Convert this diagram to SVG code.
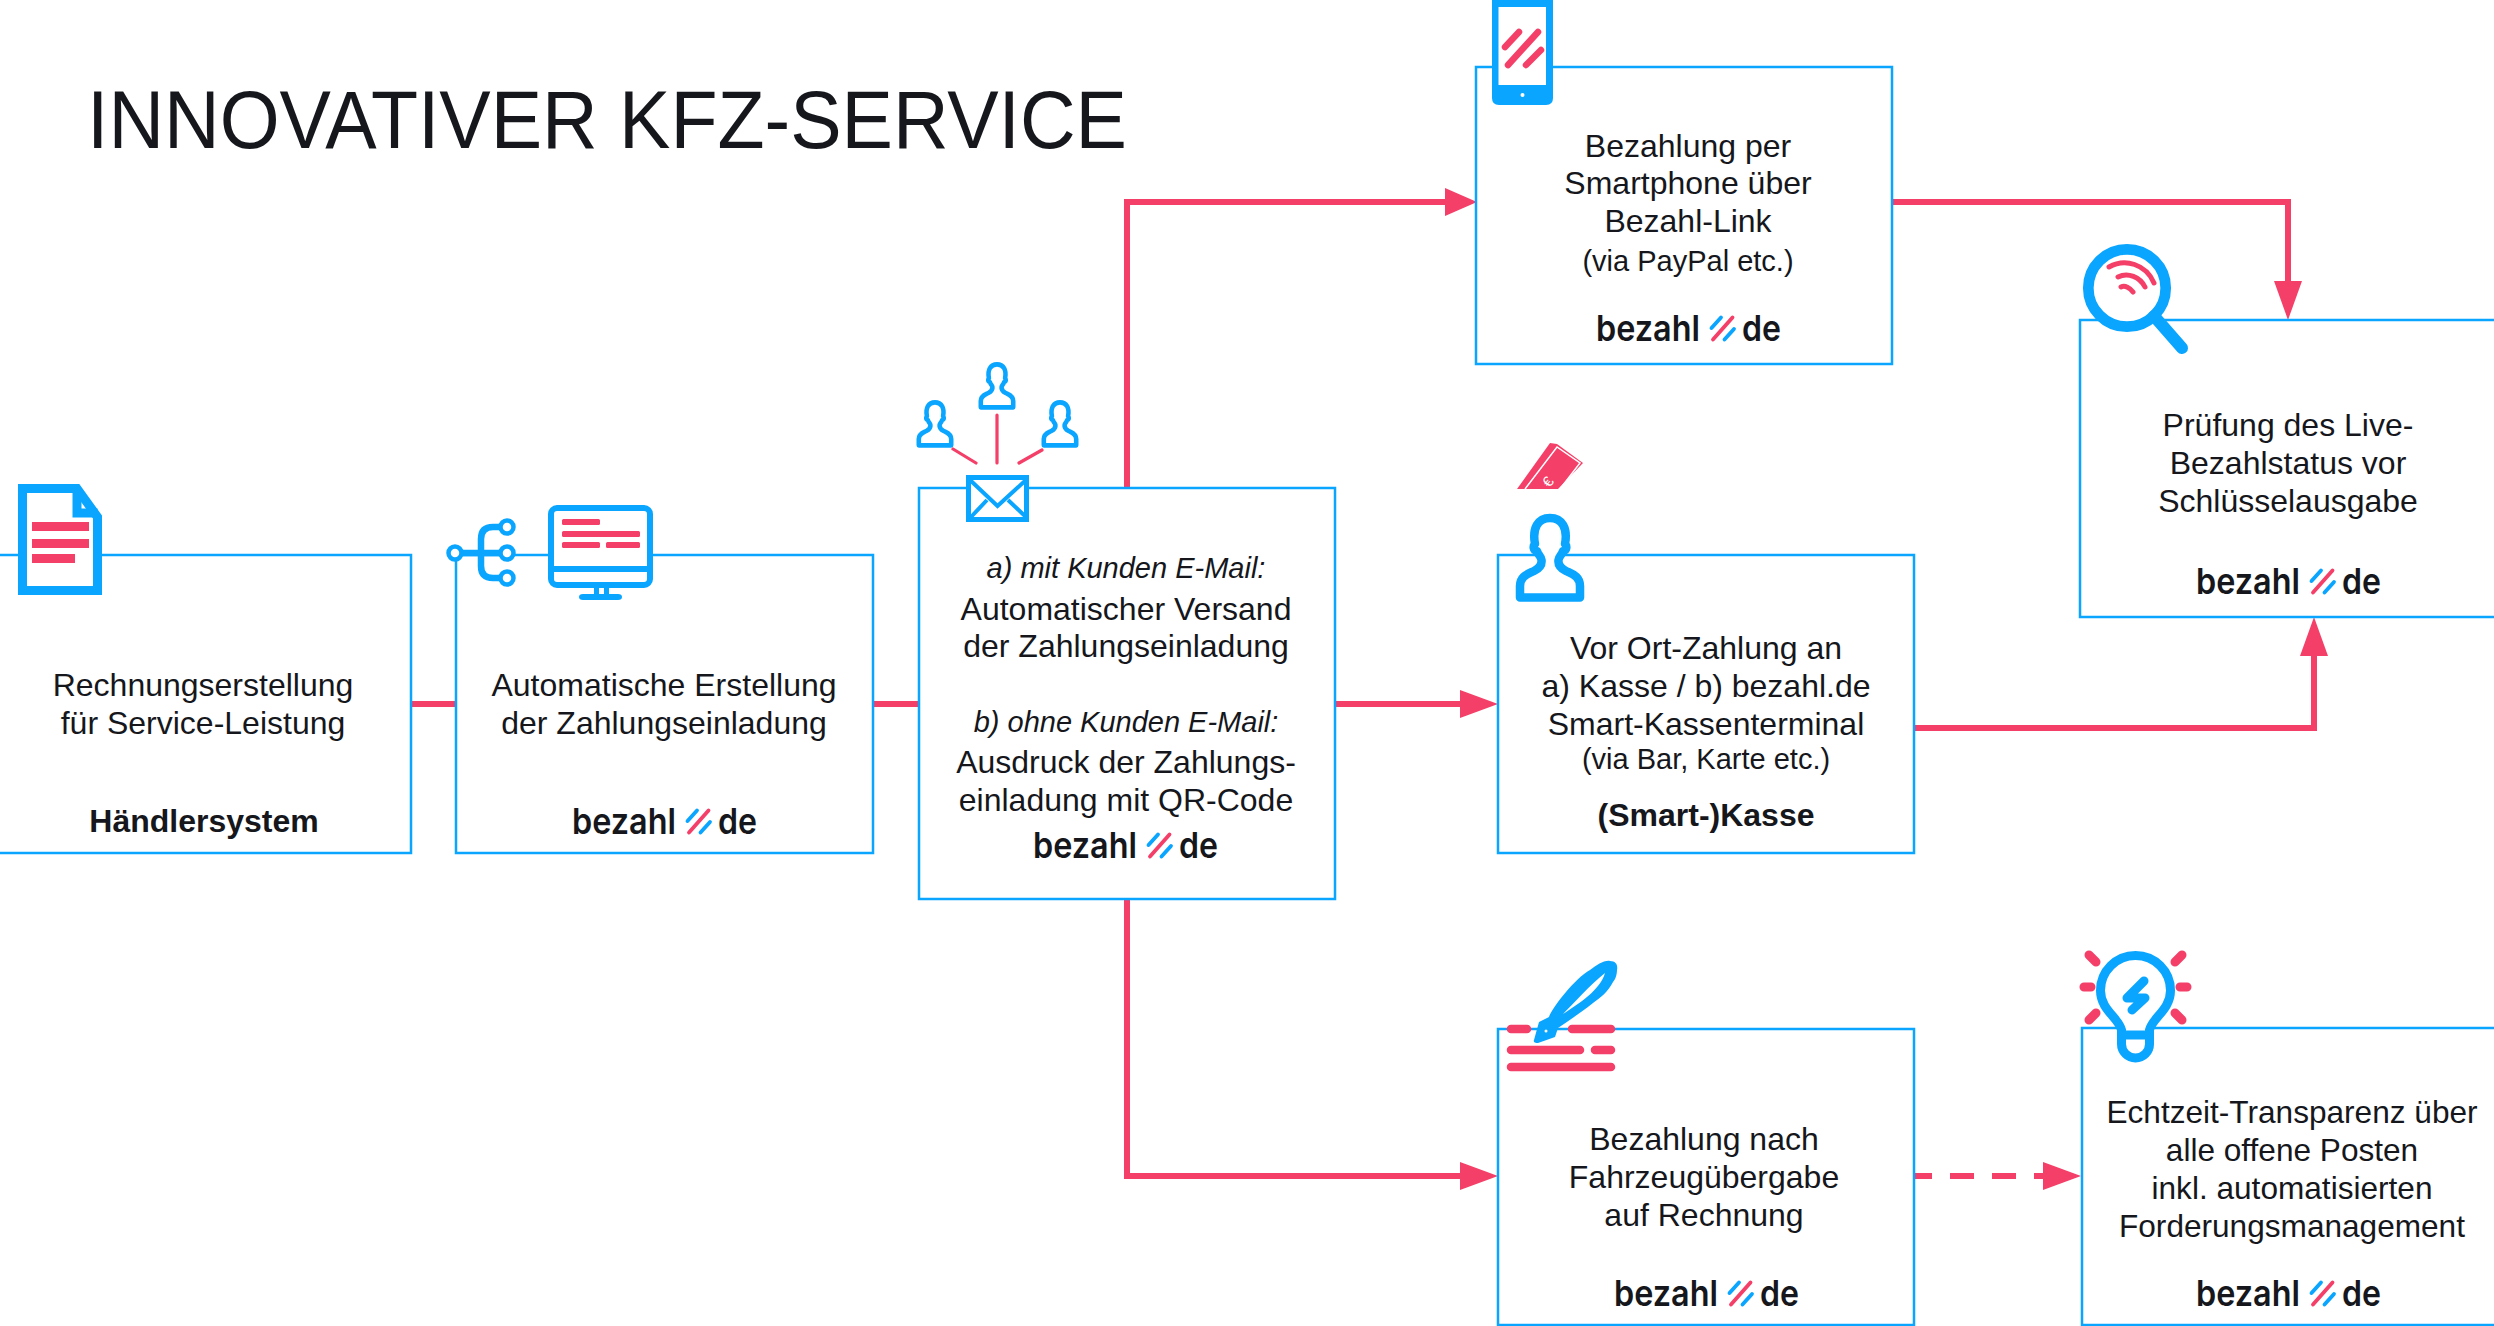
<svg xmlns="http://www.w3.org/2000/svg" width="2494" height="1326" viewBox="0 0 2494 1326">
<style>
.box{fill:#fff;stroke:#0aa5ff;stroke-width:2.5}
.t{font-family:"Liberation Sans",Arial,sans-serif;font-size:32px;fill:#15171c;text-anchor:middle}
.s{font-size:29px}
.i{font-style:italic;font-size:29px}
.b{font-weight:700}
.e{font-size:31.6px}
.title{font-size:81px}
.logo{font-family:Inter,"Liberation Sans",sans-serif;font-weight:600;font-size:36px;fill:#15171c}
.c{fill:none;stroke:#f43f68;stroke-width:6}
.ah{fill:#f43f68}
.bl{fill:#0aa5ff}
.ol{fill:none;stroke:#0aa5ff}
.pk{fill:none;stroke:#f43f68;stroke-linecap:round}
.pf{fill:#f43f68}
</style>
<defs>
<g id="slashes" fill="none" stroke-width="3.8" stroke-linecap="round">
<path d="M115.500-13 125-23.500M128.500-1.500 138-12" stroke="#0aa5ff"/>
<path d="M117-1.500 136.500-23.500" stroke="#f43f68"/>
</g>
<path id="person" d="M-30 39.500V28C-30 18-22 16-16 13C-10 10-8 6-8.500 2C-9-2-12-3-13-7C-17-8-17-12-15-14C-18-30-12-40 0-40C12-40 18-30 15-14C17-12 17-8 13-7C12-3 9-2 8.500 2C8 6 10 10 16 13C22 16 30 18 30 28V39.500Z" stroke="#0aa5ff" stroke-width="8.500" stroke-linejoin="round"/>
</defs>

<text class="t title" x="607" y="148" textLength="1040" lengthAdjust="spacingAndGlyphs">INNOVATIVER KFZ-SERVICE</text>

<g id="connectors">
<path class="c" d="M411 704H456M873 704H919"/>
<path class="c" d="M1335 704H1466"/><path class="ah" d="M1498 704 1460 690V718Z"/>
<path class="c" d="M1127 488V202H1450"/><path class="ah" d="M1477 202 1445 188V216Z"/>
<path class="c" d="M1892 202H2288V290"/><path class="ah" d="M2288 320 2274 281H2302Z"/>
<path class="c" d="M1914 728H2314V650"/><path class="ah" d="M2314 617 2300 656H2328Z"/>
<path class="c" d="M1127 899V1176H1470"/><path class="ah" d="M1498 1176 1460 1162V1190Z"/>
<path class="c" d="M1908 1176H2050" stroke-dasharray="24 18"/><path class="ah" d="M2081 1176 2043 1162V1190Z"/>
</g>

<g id="node-rechnung">
<rect class="box" x="-10" y="555" width="421" height="298"/>
<path d="M22.500 488.500H77L97.500 517V590.500H22.500Z" fill="#fff" stroke="#0aa5ff" stroke-width="9"/>
<path d="M77 488.500V513H97.500" fill="none" stroke="#0aa5ff" stroke-width="9"/>
<rect class="pf" x="32" y="522" width="57" height="9"/><rect class="pf" x="32" y="539" width="57" height="9"/><rect class="pf" x="32" y="554" width="43" height="9"/>
<text class="t" x="203" y="696">Rechnungserstellung</text>
<text class="t" x="203" y="734">für Service-Leistung</text>
<text class="t b" x="204" y="832">Händlersystem</text>
</g>

<g id="node-erstellung">
<rect class="box" x="456" y="555" width="417" height="298"/>
<path class="ol" stroke-width="6.500" d="M463 553H500M500 527H493Q481 527 481 539V566Q481 578 493 578H500"/>
<circle cx="455" cy="553" r="6.500" fill="#fff" stroke="#0aa5ff" stroke-width="4.500"/>
<circle cx="507" cy="527" r="6.500" fill="#fff" stroke="#0aa5ff" stroke-width="4.500"/>
<circle cx="507" cy="553" r="6.500" fill="#fff" stroke="#0aa5ff" stroke-width="4.500"/>
<circle cx="507" cy="578" r="6.500" fill="#fff" stroke="#0aa5ff" stroke-width="4.500"/>
<rect x="551" y="508" width="99" height="77" rx="6" fill="#fff" stroke="#0aa5ff" stroke-width="6"/>
<path class="bl" d="M551 566H650V572H551ZM594 588H599V596H594ZM604 588H609V596H604ZM583 594H618Q622 594 622 597Q622 600 618 600H583Q579 600 579 597Q579 594 583 594Z"/>
<rect class="pf" x="562" y="519" width="38" height="6" rx="1.500"/><rect class="pf" x="562" y="531" width="78" height="6" rx="1.500"/><rect class="pf" x="562" y="542" width="38" height="6" rx="1.500"/><rect class="pf" x="606" y="542" width="34" height="6" rx="1.500"/>
<text class="t" x="664" y="696">Automatische Erstellung</text>
<text class="t" x="664" y="734">der Zahlungseinladung</text>
<text class="logo" x="572" y="834" textLength="104" lengthAdjust="spacingAndGlyphs">bezahl</text><use href="#slashes" x="572" y="834"/><text class="logo" x="718" y="834" textLength="39" lengthAdjust="spacingAndGlyphs">de</text>
</g>

<g id="node-versand">
<rect class="box" x="919" y="488" width="416" height="411"/>
<use href="#person" fill="none" transform="translate(935 424) scale(.54)"/><use href="#person" fill="none" transform="translate(997 386) scale(.54)"/><use href="#person" fill="none" transform="translate(1060 424) scale(.54)"/>
<path class="pk" stroke-width="3.200" d="M953 449 976 463M997 415V463M1042 450 1019 463"/>
<rect x="968.500" y="477.500" width="58" height="42" fill="#fff" stroke="#0aa5ff" stroke-width="5"/>
<path class="ol" stroke-width="4" d="M970 480 997.500 506 1026 480M971 517 987 500M1026 517 1008 500"/>
<text class="t i" x="1126" y="578">a) mit Kunden E-Mail:</text>
<text class="t" x="1126" y="620">Automatischer Versand</text>
<text class="t" x="1126" y="657">der Zahlungseinladung</text>
<text class="t i" x="1126" y="732">b) ohne Kunden E-Mail:</text>
<text class="t" x="1126" y="773">Ausdruck der Zahlungs-</text>
<text class="t" x="1126" y="811">einladung mit QR-Code</text>
<text class="logo" x="1033" y="858" textLength="104" lengthAdjust="spacingAndGlyphs">bezahl</text><use href="#slashes" x="1033" y="858"/><text class="logo" x="1179" y="858" textLength="39" lengthAdjust="spacingAndGlyphs">de</text>
</g>

<g id="node-smartphone">
<rect class="box" x="1476" y="67" width="416" height="297"/>
<path class="bl" d="M1492 0H1553V98Q1553 105 1546 105H1499Q1492 105 1492 98Z"/>
<rect x="1498.500" y="7" width="47.500" height="78" fill="#fff"/><circle cx="1522.500" cy="95" r="2" fill="#fff"/>
<path class="pk" stroke-width="6.500" d="M1505 47 1519 32M1508 65 1538 32M1526 65 1541 50"/>
<text class="t" x="1688" y="157">Bezahlung per</text>
<text class="t" x="1688" y="194">Smartphone über</text>
<text class="t" x="1688" y="232">Bezahl-Link</text>
<text class="t s" x="1688" y="271">(via PayPal etc.)</text>
<text class="logo" x="1596" y="341" textLength="104" lengthAdjust="spacingAndGlyphs">bezahl</text><use href="#slashes" x="1596" y="341"/><text class="logo" x="1742" y="341" textLength="39" lengthAdjust="spacingAndGlyphs">de</text>
</g>

<g id="node-kasse">
<rect class="box" x="1498" y="555" width="416" height="298"/>
<path class="pf" d="M1517 489 1550 443 1557 444 1583 463 1558 489Z"/>
<path d="M1525 489 1557 447 1580 463 1560 489" fill="none" stroke="#fff" stroke-width="1.500"/>
<text x="0" y="0" transform="translate(1552 485) rotate(-52)" font-family="'Liberation Sans',sans-serif" font-size="15" fill="#fff" text-anchor="middle">€</text>
<use href="#person" fill="#fff" transform="translate(1550 558)"/>
<text class="t" x="1706" y="659">Vor Ort-Zahlung an</text>
<text class="t" x="1706" y="697">a) Kasse / b) bezahl.de</text>
<text class="t" x="1706" y="735">Smart-Kassenterminal</text>
<text class="t s" x="1706" y="769">(via Bar, Karte etc.)</text>
<text class="t b" x="1706" y="826">(Smart-)Kasse</text>
</g>

<g id="node-pruefung">
<rect class="box" x="2080" y="320" width="424" height="297"/>
<circle cx="2127" cy="288" r="38.700" fill="#fff" stroke="#0aa5ff" stroke-width="10.700"/>
<path d="M2154 316 2182 348" fill="none" stroke="#0aa5ff" stroke-width="12" stroke-linecap="round"/>
<path class="pk" stroke-width="5" d="M2109 267C2125 258 2146 264 2154 283M2118 277C2128 272 2140 277 2145 287M2121 287C2125 285 2130 288 2133 292"/>
<text class="t" x="2288" y="436">Prüfung des Live-</text>
<text class="t" x="2288" y="474">Bezahlstatus vor</text>
<text class="t" x="2288" y="512">Schlüsselausgabe</text>
<text class="logo" x="2196" y="594" textLength="104" lengthAdjust="spacingAndGlyphs">bezahl</text><use href="#slashes" x="2196" y="594"/><text class="logo" x="2342" y="594" textLength="39" lengthAdjust="spacingAndGlyphs">de</text>
</g>

<g id="node-rechnung2">
<rect class="box" x="1498" y="1029" width="416" height="296"/>
<path class="pk" stroke-width="8.500" d="M1511 1029H1527M1572 1029H1611M1511 1050H1580M1595 1050H1611M1511 1067H1611"/>
<path class="bl" d="M1534 1040 1539 1022 1549 1017C1552 1008 1575 978 1590 970C1597 965 1604 960 1610 961C1616 961 1618 965 1617 970C1617 975 1615 980 1613 982C1608 992 1600 998 1593 1003C1580 1013 1570 1020 1558 1028L1555 1037 1538 1043C1535 1043 1533 1042 1534 1040Z"/>
<path d="M1563 1014C1575 1002 1590 985 1605 973C1600 990 1580 1003 1563 1014Z" fill="#fff"/><circle cx="1546" cy="1031" r="1.500" fill="#fff"/>
<text class="t" x="1704" y="1150">Bezahlung nach</text>
<text class="t" x="1704" y="1188">Fahrzeugübergabe</text>
<text class="t" x="1704" y="1226">auf Rechnung</text>
<text class="logo" x="1614" y="1306" textLength="104" lengthAdjust="spacingAndGlyphs">bezahl</text><use href="#slashes" x="1614" y="1306"/><text class="logo" x="1760" y="1306" textLength="39" lengthAdjust="spacingAndGlyphs">de</text>
</g>

<g id="node-transparenz">
<rect class="box" x="2082" y="1028" width="422" height="297"/>
<path d="M2121.500 1030C2119 1018 2100.500 1010 2100.500 990.500A35 35 0 0 1 2170.500 990.500C2170.500 1010 2152 1018 2149.500 1030V1044A13.500 13.500 0 0 1 2121.500 1044Z" fill="#fff" stroke="#0aa5ff" stroke-width="9"/>
<path d="M2121.500 1035H2149.500" fill="none" stroke="#0aa5ff" stroke-width="9"/>
<path d="M2144 981 2127 998H2145L2132 1010" fill="none" stroke="#0aa5ff" stroke-width="9" stroke-linecap="round" stroke-linejoin="round"/>
<path class="pk" stroke-width="9" d="M2089 955 2096 962M2182 955 2175 962M2084 987H2091M2187 987H2180M2089 1020 2096 1013M2182 1020 2175 1013"/>
<text class="t e" x="2292" y="1123">Echtzeit-Transparenz über</text>
<text class="t e" x="2292" y="1161">alle offene Posten</text>
<text class="t e" x="2292" y="1199">inkl. automatisierten</text>
<text class="t e" x="2292" y="1237">Forderungsmanagement</text>
<text class="logo" x="2196" y="1306" textLength="104" lengthAdjust="spacingAndGlyphs">bezahl</text><use href="#slashes" x="2196" y="1306"/><text class="logo" x="2342" y="1306" textLength="39" lengthAdjust="spacingAndGlyphs">de</text>
</g>
</svg>
